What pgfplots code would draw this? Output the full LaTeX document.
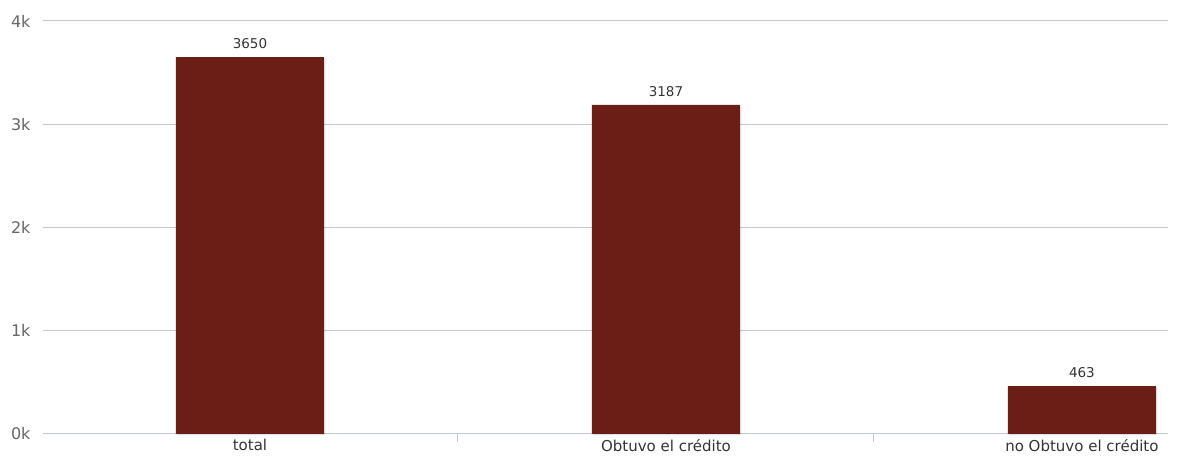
\documentclass[border=0pt]{standalone}
\usepackage{pgfplots}
\pgfplotsset{compat=1.18}
\usepackage{fontspec}
\setmainfont{DejaVu Sans}
\usetikzlibrary{shadows}
\definecolor{barc}{HTML}{6B1E16}
\definecolor{gridc}{HTML}{C8C8C8}
\definecolor{axc}{HTML}{B8C8DC}
\definecolor{ylab}{HTML}{666666}
\definecolor{xlab}{HTML}{333333}
\begin{document}
\begin{tikzpicture}
\path[use as bounding box] (0,0) rectangle (1182pt,457pt);
\begin{axis}[
  at={(43pt,23pt)}, anchor=south west,
  scale only axis, width=1125pt, height=413pt,
  xmin=-0.4976, xmax=2.207, ymin=0, ymax=4000,
  axis x line*=bottom, axis y line*=left,
  y axis line style={draw=none},
  x axis line style={draw=axc, line width=1pt},
  ytick={1000,2000,3000,4000},
  yticklabels={1k,2k,3k,4k},
  extra y ticks={0}, extra y tick labels={0k},
  extra y tick style={grid=none},
  ytick style={draw=none},
  ymajorgrids, major grid style={draw=gridc, line width=1pt},
  yticklabel style={font=\fontsize{16}{16}\selectfont, text=ylab, xshift=-9pt},
  xtick={0,1,2},
  xticklabels={total, Obtuvo el crédito, no Obtuvo el crédito},
  xtick style={draw=none},
  xticklabel style={font=\fontsize{15}{15}\selectfont, text=xlab, yshift=-2pt},
  extra x ticks={0.5,1.5},
  extra x tick labels={},
  extra x tick style={grid=none, xtick style={draw=axc, line width=1pt}, major tick length=8pt, tick align=outside},
  /pgf/number format/assume math mode=true,
  /pgf/number format/1000 sep={},
  clip=false,
]
\addplot[ybar, bar width=148pt, fill=barc, draw=none, bar shift=0pt,
  drop shadow={shadow xshift=1.5pt, shadow yshift=-1pt, opacity=0.25},
  nodes near coords,
  every node near coord/.append style={font=\fontsize{13.5}{13.5}\selectfont, text=xlab, anchor=south, inner sep=0pt, yshift=8pt, /pgf/number format/1000 sep={}},
  ] coordinates {(0,3650) (1,3187) (2,463)};
\end{axis}
\end{tikzpicture}
\end{document}
